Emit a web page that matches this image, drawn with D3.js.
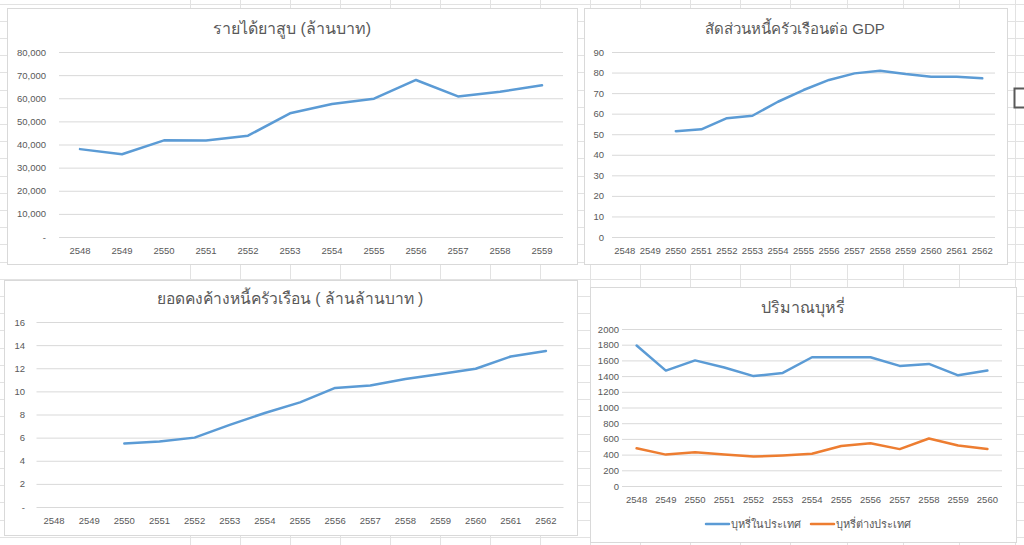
<!DOCTYPE html>
<html>
<head>
<meta charset="utf-8">
<script src="https://cdn.jsdelivr.net/npm/d3@7"></script>
<style>
  html, body { margin: 0; padding: 0; background: #fff; }
  svg { display: block; font-family: "Liberation Sans", "Noto Sans", "DejaVu Sans", sans-serif; }
  .title { fill: #595959; text-anchor: middle; }
  .tick text { fill: #595959; }
  .grid line { stroke: #d9d9d9; }
  .domain { display: none; }
</style>
</head>
<body>
<script>
// ---- data ----
var revenueYears = ["2548","2549","2550","2551","2552","2553","2554","2555","2556","2557","2558","2559"];
var tobaccoRevenue = [38000, 35800, 41800, 41700, 43800, 53500, 57500, 59800, 67900, 60800, 62800, 65600];

var debtYears = ["2548","2549","2550","2551","2552","2553","2554","2555","2556","2557","2558","2559","2560","2561","2562"];
var debtToGdp = [null, null, 51.5, 52.4, 57.8, 59.0, 65.8, 71.5, 76.4, 79.6, 80.9, 79.3, 78.0, 78.0, 77.2];
var householdDebt = [null, null, 5.5, 5.67, 6.0, 7.1, 8.13, 9.05, 10.3, 10.5, 11.07, 11.5, 11.96, 13.02, 13.5];

var cigYears = ["2548","2549","2550","2551","2552","2553","2554","2555","2556","2557","2558","2559","2560"];
var cigDomestic = [1790, 1470, 1600, 1510, 1400, 1440, 1640, 1640, 1640, 1530, 1555, 1410, 1470];
var cigImported = [480, 400, 430, 400, 375, 390, 410, 510, 545, 470, 605, 515, 470];
var cigSeriesNames = ["บุหรี่ในประเทศ", "บุหรี่ต่างประเทศ"];

var W = 1024, H = 545;
var blue = "#5b9bd5", orange = "#ed7d31";

var svg = d3.select("body").append("svg")
  .attr("width", W)
  .attr("height", H);

// spreadsheet cells behind the charts
var colX = [189.5, 239.6, 289.7, 339.7, 389.8, 439.9, 490, 540.1, 590.2, 640, 690, 740, 790, 846.5, 903, 959, 1015];
var sheet = svg.append("g").attr("stroke", "#e2e2e2").attr("stroke-width", 1);
for (var r = 0; r < 33; r++) {
  var ry = Math.round(3.5 + r * 17.2) + 0.5;
  sheet.append("line").attr("x1", 0).attr("x2", W).attr("y1", ry).attr("y2", ry);
}
colX.forEach(function(cx) {
  var x = Math.round(cx) + 0.5;
  sheet.append("line").attr("x1", x).attr("x2", x).attr("y1", 0).attr("y2", H);
});
// active cell
svg.append("rect")
  .attr("x", 1014.5).attr("y", 88.5).attr("width", 20).attr("height", 19)
  .attr("fill", "#fff").attr("stroke", "#595959").attr("stroke-width", 2);

// draw one Excel-like line chart
function chart(opt) {
  var g = svg.append("g");
  g.append("rect")
    .attr("x", opt.box[0] + 0.5).attr("y", opt.box[1] + 0.5)
    .attr("width", opt.box[2] - opt.box[0]).attr("height", opt.box[3] - opt.box[1])
    .attr("fill", "#fff").attr("stroke", "#d9d9d9");

  g.append("text")
    .attr("class", "title")
    .attr("x", opt.titleX).attr("y", opt.titleY)
    .attr("dy", "0.35em")
    .style("font-size", opt.titleSize + "px")
    .text(opt.title);

  var x = d3.scaleBand().domain(opt.cats).range([opt.plot[0], opt.plot[2]]);
  var y = d3.scaleLinear().domain(opt.yDomain).range([opt.plot[3], opt.plot[1]]);

  // horizontal gridlines
  g.append("g")
    .attr("class", "grid")
    .attr("transform", "translate(" + opt.plot[0] + ",0)")
    .call(d3.axisLeft(y).tickValues(opt.yTicks).tickSize(-(opt.plot[2] - opt.plot[0])).tickFormat(""))
    .call(function(s) { s.select(".domain").remove(); });

  // y tick labels
  g.append("g")
    .attr("transform", "translate(" + opt.labelX + ",0)")
    .call(d3.axisLeft(y).tickValues(opt.yTicks).tickSize(0).tickPadding(0).tickFormat(opt.yFormat))
    .call(function(s) {
      s.select(".domain").remove();
      s.selectAll("text").style("font-size", opt.tickSize + "px").attr("font-family", null);
    });

  // x tick labels
  g.append("g")
    .attr("transform", "translate(0," + opt.xLabelY + ")")
    .call(d3.axisBottom(x).tickSize(0).tickPadding(0))
    .call(function(s) {
      s.select(".domain").remove();
      s.selectAll("text").style("font-size", opt.tickSize + "px").attr("dy", "0.35em").attr("font-family", null);
    });

  var line = d3.line()
    .defined(function(d) { return d.v != null; })
    .x(function(d) { return x(d.c) + x.bandwidth() / 2; })
    .y(function(d) { return y(d.v); });

  opt.series.forEach(function(s) {
    var pts = opt.cats.map(function(c, i) { return { c: c, v: s.values[i] }; });
    g.append("path")
      .datum(pts)
      .attr("fill", "none")
      .attr("stroke", s.color)
      .attr("stroke-width", 2.5)
      .attr("stroke-linejoin", "round")
      .attr("stroke-linecap", "round")
      .attr("d", line);
  });
  return { g: g, x: x, y: y };
}

var dashZero = function(fmt) {
  return function(d) { return d === 0 ? "-" : fmt(d); };
};

chart({
  box: [7, 8, 577, 264],
  title: "รายได้ยาสูบ (ล้านบาท)", titleX: 292, titleY: 28, titleSize: 16,
  cats: revenueYears,
  yDomain: [0, 80000], yTicks: d3.range(0, 80001, 10000),
  yFormat: dashZero(d3.format(",")),
  plot: [59, 52, 563, 237], labelX: 46, xLabelY: 251, tickSize: 9.5,
  series: [{ values: tobaccoRevenue, color: blue }]
});

chart({
  box: [584, 8, 1007, 264],
  title: "สัดส่วนหนี้ครัวเรือนต่อ GDP", titleX: 795, titleY: 29, titleSize: 15,
  cats: debtYears,
  yDomain: [0, 90], yTicks: d3.range(0, 91, 10),
  yFormat: d3.format("d"),
  plot: [612, 52, 995, 237], labelX: 604, xLabelY: 251, tickSize: 9.5,
  series: [{ values: debtToGdp, color: blue }]
});

chart({
  box: [4, 280, 577, 535],
  title: "ยอดคงค้างหนี้ครัวเรือน ( ล้านล้านบาท )", titleX: 290, titleY: 299, titleSize: 15.6,
  cats: debtYears,
  yDomain: [0, 16], yTicks: d3.range(0, 17, 2),
  yFormat: dashZero(d3.format("d")),
  plot: [36.5, 322, 563.5, 507], labelX: 25, xLabelY: 521, tickSize: 9.5,
  series: [{ values: householdDebt, color: blue }]
});

var c4 = chart({
  box: [590, 287, 1016, 542],
  title: "ปริมาณบุหรี่", titleX: 803, titleY: 307, titleSize: 16,
  cats: cigYears,
  yDomain: [0, 2000], yTicks: d3.range(0, 2001, 200),
  yFormat: d3.format("d"),
  plot: [622, 329, 1002, 486], labelX: 619, xLabelY: 500, tickSize: 9.5,
  series: [{ values: cigDomestic, color: blue }, { values: cigImported, color: orange }]
});

// legend for the cigarette chart
var legend = c4.g.append("g").attr("transform", "translate(0,524)");
var legendX = [706, 811];
cigSeriesNames.forEach(function(name, i) {
  var lg = legend.append("g").attr("transform", "translate(" + legendX[i] + ",0)");
  lg.append("line")
    .attr("x1", 0).attr("x2", 23).attr("y1", 0).attr("y2", 0)
    .attr("stroke", i === 0 ? blue : orange).attr("stroke-width", 2.5).attr("stroke-linecap", "round");
  lg.append("text")
    .attr("x", 25).attr("dy", "0.35em")
    .attr("fill", "#595959").style("font-size", "11px")
    .text(name);
});
</script>
</body>
</html>
